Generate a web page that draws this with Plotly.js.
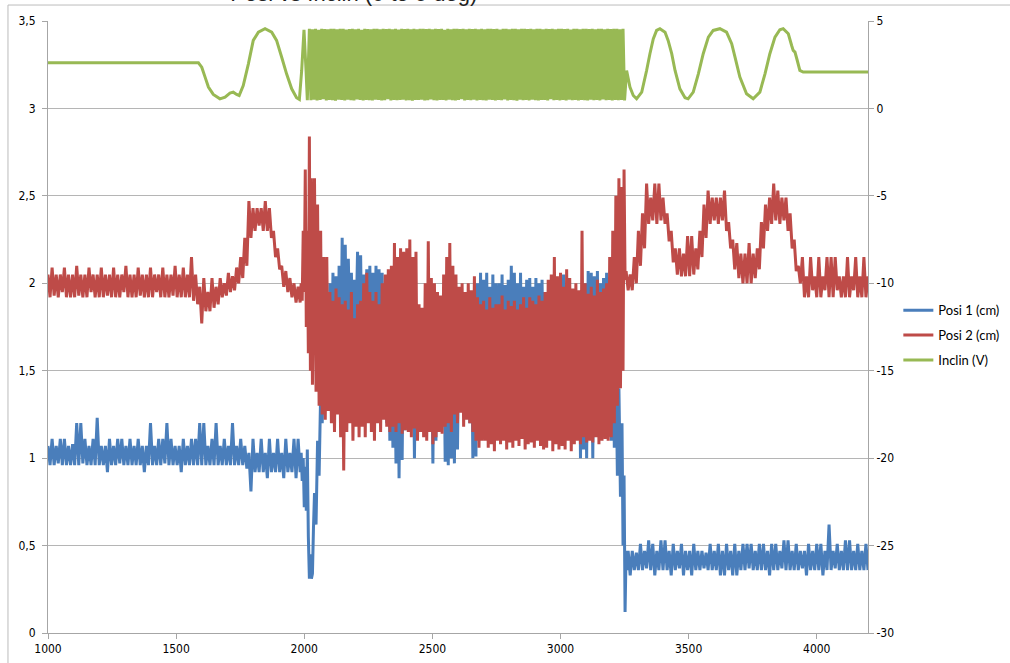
<!DOCTYPE html>
<html><head><meta charset="utf-8">
<script src="https://cdn.plot.ly/plotly-3.0.1.min.js"></script>
<style>html,body{margin:0;padding:0;background:#fff}#chart{width:1010px;height:663px}</style>
</head><body><div id="chart"></div>
<script>
// ---------- axis / legend text ----------
const X_TICKS = [1000,1500,2000,2500,3000,3500,4000];
const LEFT_TICKS = [0,0.5,1,1.5,2,2.5,3,3.5];
const LEFT_TICK_TEXT = ['0','0,5','1','1,5','2','2,5','3','3,5'];
const RIGHT_TICKS = [-30,-25,-20,-15,-10,-5,0,5];
const RIGHT_TICK_TEXT = ['-30','-25','-20','-15','-10','-5','0','5'];
const SERIES_NAMES = ['Posi 1 (cm)','Posi 2 (cm)','Inclin (V)'];
const TITLE_TEXT = 'Posi vs Inclin (0 to 5 deg)';

// ---------- Posi 1 (cm) ----------
const POSI1_PRE_RANGE = [1000,1984];
const posi1Pre = [1.07,0.96,1.11,0.96,1.07,0.97,1.11,0.96,1.11,0.96,1.07,0.96,1.08,0.96,1.2,0.96,1.2,0.97,1.11,0.96,
 1.07,0.96,1.11,0.96,1.23,0.96,1.07,0.96,1.07,0.92,1.11,0.96,1.07,0.96,1.11,0.97,1.11,0.96,1.07,0.96,
 1.11,0.96,1.07,0.96,1.11,0.96,1.07,0.92,1.07,0.96,1.2,0.96,1.07,0.96,1.11,0.96,1.11,0.97,1.2,0.96,
 1.11,0.96,1.07,0.96,1.07,0.92,1.11,0.96,1.07,0.96,1.11,0.96,1.11,0.96,1.2,0.96,1.2,0.96,1.07,0.96,
 1.11,0.96,1.2,0.96,1.07,0.96,1.11,0.96,1.07,0.96,1.2,0.96,1.07,0.96,1.11,0.96,1.07,0.94,1.03,0.81,
 1.11,0.92,1.03,0.92,1.11,0.92,1.03,0.885,1.11,0.92,1.03,0.92,1.11,0.92,1.03,0.885,1.11,0.92,1.03,0.92,
 1.11,0.885,1.11,0.92];
const posi1DipX = [1988,1992,1996,2000,2004,2008,2012,2016,2020,2024,2028,2032,2036];
const posi1DipY = [1.03,0.87,1.0,0.72,0.95,0.7,1.05,0.55,0.31,0.45,0.31,0.34,0.6];
const POSI1_MID_RANGE = [2040,3240];
const posi1Mid = [0.8,0.62,1.1,0.9,1.37,1.2,1.55,1.3,1.65,1.4,
 2.0,1.3,2.06,1.35,2.04,1.28,2.1,1.4,2.26,1.3,
 2.22,1.45,2.14,1.7,2.06,1.5,2.02,1.74,2.18,1.6,
 2.16,1.5,2.05,1.4,2.08,1.55,2.1,1.45,2.06,1.5,
 2.1,1.4,2.08,1.35,2.06,1.3,1.9,1.2,1.85,1.1,
 1.8,1.06,1.7,0.97,1.75,0.885,1.8,0.99,1.85,1.16,
 1.8,1.3,1.85,1.2,1.9,1.0,1.8,1.25,1.75,1.3,
 1.7,1.3,1.8,1.25,1.75,1.2,1.8,0.97,1.85,1.1,
 1.8,1.3,1.75,1.2,1.85,0.98,1.8,0.96,1.78,1.0,
 1.8,0.97,1.85,1.05,1.8,1.3,1.75,1.25,1.85,1.3,
 1.8,1.2,1.85,1.0,1.9,1.01,2.0,1.2,2.06,1.25,
 2.02,1.3,2.06,1.25,1.98,1.3,2.05,1.35,2.0,1.28,
 2.0,1.3,2.05,1.35,1.99,1.28,2.02,1.3,2.1,1.32,
 2.06,1.3,2.0,1.25,2.06,1.3,1.98,1.28,2.02,1.35,
 2.03,1.3,1.98,1.32,2.03,1.28,2.0,1.3,2.02,1.35,
 1.95,1.3,1.9,1.28,1.92,1.32,1.85,1.3,1.9,1.25,
 1.95,1.3,2.05,1.28,1.95,1.3,1.9,1.32,1.92,1.3,
 1.9,1.2,1.95,1.0,1.9,1.05,2.0,1.0,2.07,1.2,
 2.06,1.0,2.04,1.15,2.07,1.25,2.0,1.2,2.03,1.3,
 2.06,1.25,1.9,1.1,1.8,1.06,1.6,0.9,1.4,0.78,
 1.2];
const posi1DropX = [3244,3248,3252,3256,3260];
const posi1DropY = [0.5,0.9,0.12,0.47,0.36];
const POSI1_POST_RANGE = [3264,4200];
const posi1Post = [0.47,0.33,0.47,0.36,0.46,0.36,0.51,0.36,0.47,0.37,0.53,0.36,0.51,0.33,0.47,0.36,0.53,0.36,0.53,0.36,
 0.47,0.33,0.51,0.36,0.47,0.37,0.51,0.33,0.47,0.36,0.47,0.33,0.51,0.36,0.47,0.36,0.47,0.37,0.46,0.36,
 0.51,0.36,0.47,0.36,0.51,0.33,0.47,0.33,0.51,0.36,0.47,0.33,0.51,0.33,0.47,0.36,0.51,0.36,0.51,0.37,
 0.51,0.36,0.47,0.36,0.51,0.36,0.51,0.36,0.47,0.33,0.51,0.36,0.51,0.36,0.47,0.37,0.53,0.36,0.53,0.36,
 0.47,0.36,0.51,0.36,0.47,0.37,0.47,0.33,0.51,0.36,0.47,0.36,0.51,0.36,0.51,0.33,0.47,0.36,0.62,0.36,
 0.47,0.37,0.51,0.36,0.47,0.36,0.53,0.36,0.53,0.36,0.47,0.36,0.51,0.36,0.47,0.36,0.51,0.36];

// ---------- Posi 2 (cm) ----------
const POSI2_PRE_RANGE = [1000,1984];
const posi2Pre = [2.05,1.92,2.09,1.93,2.05,1.92,2.05,1.95,2.09,1.92,2.05,1.92,2.05,1.92,2.1,1.93,2.05,1.92,2.05,1.92,
 2.09,1.95,2.05,1.92,2.05,1.92,2.09,1.92,2.05,1.93,2.05,1.92,2.09,1.92,2.05,1.92,2.05,1.95,2.1,1.92,
 2.05,1.92,2.05,1.92,2.09,1.93,2.05,1.92,2.05,1.92,2.09,1.92,2.05,1.95,2.05,1.92,2.09,1.92,2.05,1.92,
 2.05,1.93,2.1,1.92,2.05,1.92,2.09,1.92,2.05,1.92,2.15,1.9,2.05,1.88,1.98,1.77,2.03,1.84,1.95,1.84,
 2.03,1.86,1.98,1.88,2.03,1.92,2.0,1.93,2.06,1.95,2.04,1.96,2.09,2.0,2.15,2.03,2.26,2.1,2.47,2.26,
 2.43,2.3,2.43,2.33,2.43,2.3,2.47,2.3,2.43,2.26,2.3,2.15,2.2,2.08,2.1,1.98,2.07,1.95,2.03,1.92,
 2.0,1.89,1.98,1.89];
const posi2SpikeX = [1988,1992,1996,2000,2004,2008,2012,2016,2020,2024,2028,2032];
const posi2SpikeY = [2.0,1.9,2.3,1.95,2.65,1.75,2.3,1.6,2.84,1.5,2.6,1.42];
const POSI2_MID_RANGE = [2040,3240];
const posi2Mid = [2.6,1.38,2.45,1.3,2.3,1.25,2.15,1.22,2.15,1.27,
 1.95,1.2,1.9,1.15,1.97,1.25,1.92,1.12,1.88,0.93,
 1.9,1.15,1.85,1.2,1.95,1.1,1.8,1.18,1.88,1.12,
 1.9,1.18,2.0,1.12,2.06,1.2,1.95,1.15,1.9,1.1,
 1.95,1.2,1.88,1.15,2.0,1.22,2.05,1.18,2.08,1.15,
 2.1,1.18,2.23,1.15,2.15,1.2,2.2,1.14,2.18,1.16,
 2.2,1.15,2.25,1.12,2.15,1.17,2.18,1.1,1.88,1.15,
 1.86,1.12,2.0,1.1,2.24,1.15,2.03,1.08,2.0,1.12,
 1.95,1.15,1.93,1.14,2.05,1.18,2.15,1.2,2.23,1.15,
 2.1,1.25,2.05,1.2,1.98,1.26,2.0,1.18,1.95,1.22,
 2.0,1.2,1.96,1.15,2.04,1.1,1.92,1.06,1.88,1.1,
 1.9,1.1,1.85,1.06,1.92,1.08,1.86,1.04,1.88,1.1,
 1.88,1.08,1.93,1.1,1.85,1.05,1.9,1.09,1.87,1.06,
 1.9,1.1,1.85,1.07,1.88,1.11,1.92,1.05,1.86,1.08,
 1.92,1.09,1.9,1.06,1.88,1.1,1.93,1.07,1.9,1.05,
 1.95,1.06,2.02,1.1,2.05,1.04,2.15,1.08,2.04,1.05,
 2.06,1.07,1.98,1.05,2.08,1.1,2.03,1.04,1.97,1.08,
 2.0,1.1,1.96,1.08,2.3,1.12,2.0,1.09,1.94,1.1,
 1.98,1.09,1.93,1.12,2.02,1.08,1.95,1.1,1.97,1.11,
 2.0,1.1,2.15,1.12,2.3,1.2,2.5,1.3,2.6,1.4,
 2.55];
const posi2DropX = [3244,3248,3252];
const posi2DropY = [1.5,2.65,2.02];
const POSI2_POST_RANGE = [3256,4200];
const posi2Post = [2.07,1.96,2.05,1.96,2.15,2.0,2.3,2.1,2.4,2.2,2.57,2.34,2.49,2.36,2.57,2.34,2.57,2.36,2.49,2.34,
 2.4,2.24,2.3,2.12,2.2,2.05,2.2,2.04,2.17,2.04,2.27,2.04,2.27,2.05,2.2,2.08,2.3,2.15,2.45,2.26,
 2.53,2.34,2.49,2.36,2.49,2.34,2.49,2.36,2.53,2.3,2.35,2.2,2.25,2.08,2.23,2.03,2.17,2.0,2.17,2.0,
 2.23,2.0,2.17,2.03,2.2,2.08,2.35,2.2,2.45,2.3,2.49,2.34,2.57,2.36,2.53,2.34,2.49,2.36,2.49,2.3,
 2.4,2.2,2.25,2.07,2.1,2.0,2.15,1.92,2.04,1.92,2.15,1.96,2.04,1.92,2.15,1.92,2.04,1.96,2.15,1.92,
 2.15,1.92,2.15,1.96,2.04,1.92,2.04,1.92,2.15,1.92,2.04,1.96,2.15,1.92,2.04,1.92,2.15,1.92,
 2.04];

// ---------- Inclin (V) ----------
const inclinPreX = [1000,1587,1600,1613,1626,1645,1671,1691,1710,1723,1736,1746,1762,1782,1801,1821,1847,1873,1892,1912,1931,1951,1970,1981,1990,1999,2007,2012];
const inclinPreY = [2.61,2.61,2.36,1.79,1.22,0.8,0.55,0.65,0.88,0.93,0.8,0.74,1.31,2.55,3.89,4.36,4.56,4.36,3.89,2.93,1.98,1.12,0.61,0.51,2.17,4.5,2.17,0.47];
const INCLIN_BAND_RANGE = [2020,3250];
const inclinBand = [4.56,0.47,4.53,0.5,4.55,0.45,4.5,0.48,4.56,0.52,4.54,0.46,4.52,0.49,4.56,0.47,4.55,0.44,4.53,0.5,
 4.55,0.48,4.56,0.46,4.51,0.5,4.54,0.47,4.56,0.45,4.53,0.51,4.55,0.48,4.5,0.46,4.56,0.49,4.54,0.47,
 4.53,0.45,4.56,0.5,4.55,0.48,4.52,0.46,4.56,0.47,4.54,0.52,4.55,0.45,4.53,0.49,4.56,0.47,4.51,0.48,
 4.56,0.5,4.54,0.46,4.55,0.47,4.53,0.44,4.56,0.49,4.52,0.48,4.55,0.5,4.56,0.46,4.54,0.47,4.55,0.51,
 4.52,0.47,4.56,0.45,4.54,0.49,4.55,0.48,4.5,0.46,4.56,0.5,4.53,0.47,4.55,0.45,4.56,0.48,4.54,0.52,
 4.55,0.46,4.53,0.49,4.56,0.47,4.54,0.5,4.55,0.45,4.52,0.48,4.56,0.47,4.53,0.46,4.55,0.5,4.56,0.48,
 4.54,0.45,4.56,0.48,4.51,0.47,4.55,0.51,4.56,0.46,4.53,0.49,4.55,0.47,4.56,0.44,4.52,0.5,4.55,0.47,
 4.56,0.48,4.54,0.46,4.55,0.5,4.53,0.47,4.56,0.45,4.55,0.49,4.52,0.48,4.56,0.46,4.54,0.52,4.55,0.47,
 4.53,0.49,4.56,0.46,4.55,0.48,4.54,0.45,4.56,0.5,4.51,0.47,4.55,0.48,4.56,0.46,4.53,0.49,4.55,0.47,
 4.56,0.45,4.54,0.5,4.55,0.47,4.52,0.48,4.56,0.46,4.55,0.51,4.53,0.47,4.56,0.48,4.54,0.45,4.55,0.49,
 4.56,0.47,4.53,0.48,4.55,0.46];
const inclinPostX = [3258,3271,3284,3297,3317,3336,3349,3362,3375,3388,3408,3420,3434,3447,3466,3486,3498,3518,3538,3557,3577,3596,3622,3648,3668,3681,3700,3726,3752,3778,3798,3817,3837,3856,3869,3889,3902,3908,3915,3924,3934,3947,4200];
const inclinPostY = [2.17,1.22,0.74,0.55,0.93,2.17,3.13,3.98,4.46,4.56,4.36,3.89,3.13,2.17,1.12,0.61,0.55,0.93,1.98,3.13,4.08,4.46,4.56,4.36,3.7,2.94,1.79,0.84,0.55,0.93,1.98,3.13,4.08,4.5,4.56,4.27,3.6,3.32,3.22,2.74,2.17,2.08,2.08];

// ---------- build ----------
function sampled(range, vals){
  const n = vals.length;
  return {x: vals.map((_, i) => range[0] + (range[1] - range[0]) * i / (n - 1)), y: vals};
}
function explicit(xs, ys){ return {x: xs, y: ys}; }
function join(parts){
  return {x: [].concat(...parts.map(p => p.x)), y: [].concat(...parts.map(p => p.y))};
}
const p1 = join([sampled(POSI1_PRE_RANGE, posi1Pre), explicit(posi1DipX, posi1DipY), sampled(POSI1_MID_RANGE, posi1Mid), explicit(posi1DropX, posi1DropY), sampled(POSI1_POST_RANGE, posi1Post)]);
const p2 = join([sampled(POSI2_PRE_RANGE, posi2Pre), explicit(posi2SpikeX, posi2SpikeY), sampled(POSI2_MID_RANGE, posi2Mid), explicit(posi2DropX, posi2DropY), sampled(POSI2_POST_RANGE, posi2Post)]);
const inc = join([explicit(inclinPreX, inclinPreY), sampled(INCLIN_BAND_RANGE, inclinBand), explicit(inclinPostX, inclinPostY)]);

const COLORS = ['#4A7EBB', '#BE4B48', '#98B954'];
const LW = 3;
const traces = [
  {x: p1.x, y: p1.y, name: SERIES_NAMES[0], type: 'scatter', mode: 'lines', line: {color: COLORS[0], width: LW, simplify: false}, legendgroup: 'a', yaxis: 'y'},
  {x: p2.x, y: p2.y, name: SERIES_NAMES[1], type: 'scatter', mode: 'lines', line: {color: COLORS[1], width: LW, simplify: false}, legendgroup: 'b', yaxis: 'y'},
  {x: inc.x, y: inc.y, name: SERIES_NAMES[2], type: 'scatter', mode: 'lines', line: {color: COLORS[2], width: LW, simplify: false}, legendgroup: 'c', yaxis: 'y2'}
];

const tickFont = {family: '"Liberation Sans Narrow", "DejaVu Sans Condensed", sans-serif', size: 12, color: '#000'};
const axisGray = '#a6a6a6';
const layout = {
  width: 1010, height: 663,
  margin: {l: 48, r: 142, t: 21, b: 30, pad: 0, autoexpand: false},
  paper_bgcolor: '#fff', plot_bgcolor: '#fff',
  showlegend: true,
  title: {text: TITLE_TEXT, font: {family: '"Liberation Sans", Arial, sans-serif', size: 22, color: '#222'},
          xref: 'container', yref: 'container', x: 0.228, xanchor: 'left', y: 0.9992, yanchor: 'bottom', automargin: false},
  xaxis: {range: [1000, 4200], tickvals: X_TICKS, ticktext: X_TICKS.map(String), showgrid: false, zeroline: false,
          showline: true, linecolor: axisGray, linewidth: 1, ticks: 'outside', ticklen: 5, tickcolor: axisGray,
          tickfont: tickFont, fixedrange: true},
  yaxis: {range: [0, 3.5], tickvals: LEFT_TICKS, ticktext: LEFT_TICK_TEXT, showgrid: true, gridcolor: '#b5b5b5', gridwidth: 1,
          zeroline: false, showline: true, linecolor: axisGray, linewidth: 1, ticks: 'outside', ticklen: 5, tickcolor: axisGray,
          tickfont: tickFont, ticklabelstandoff: 4, fixedrange: true},
  yaxis2: {range: [-30, 5], overlaying: 'y', side: 'right', tickvals: RIGHT_TICKS, ticktext: RIGHT_TICK_TEXT, showgrid: false,
           zeroline: false, showline: true, linecolor: axisGray, linewidth: 1, ticks: 'outside', ticklen: 5, tickcolor: axisGray,
           tickfont: tickFont, fixedrange: true},
  legend: {x: 1.037, y: 0.552, xanchor: 'left', yanchor: 'top', bgcolor: 'rgba(0,0,0,0)',
           font: {family: 'Lato, "Liberation Sans", sans-serif', size: 13, color: '#000'},
           traceorder: 'grouped', tracegroupgap: 5},
  shapes: [
    {type: 'rect', xref: 'paper', yref: 'paper', x0: -0.0488, x1: 1.25, y0: -0.1, y1: 1.0261,
     line: {color: '#bcbcbc', width: 1}, fillcolor: 'rgba(0,0,0,0)', layer: 'below'}
  ]
};

Plotly.newPlot('chart', traces, layout, {displayModeBar: false, staticPlot: true});
</script>
</body></html>
